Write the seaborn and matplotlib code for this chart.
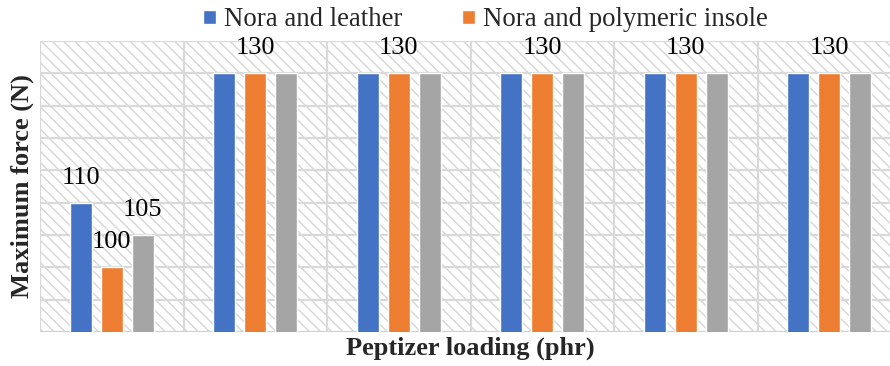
import matplotlib
matplotlib.use("Agg")
import matplotlib.pyplot as plt
from matplotlib.patches import Rectangle
import seaborn as sns
import pandas as pd

# Data
groups = ["1", "2", "3", "4", "5", "6"]
series_names = ["Nora and leather", "Nora and polymeric insole", "Nora (third sample)"]
leather = [110, 130, 130, 130, 130, 130]
polymeric = [100, 130, 130, 130, 130, 130]
third = [105, 130, 130, 130, 130, 130]
colors = ["#4472C4", "#ED7D31", "#A5A5A5"]
legend_names = series_names[:2]

df = pd.DataFrame({
    "group": groups * 3,
    "series": [series_names[0]] * 6 + [series_names[1]] * 6 + [series_names[2]] * 6,
    "force": leather + polymeric + third,
})

sns.set_theme(style="white")
plt.rcParams["font.family"] = ["Liberation Serif", "DejaVu Serif"]
plt.rcParams["hatch.linewidth"] = 1.0

fig = plt.figure(figsize=(8.9, 3.66), dpi=100)
ax = fig.add_axes([40 / 890, 34 / 366, 861 / 890, 291 / 366])

# hatched plot-area background
bg = Rectangle((0, 0), 1, 1, transform=ax.transAxes, facecolor="white",
               edgecolor="#d6d6d6", linewidth=0, hatch="\\\\\\", zorder=0)
ax.add_patch(bg)

sns.barplot(data=df, x="group", y="force", hue="series", palette=colors,
            width=0.65, gap=0.3, ax=ax, legend=False, zorder=3,
            errorbar=None, saturation=1)

ax.set_ylim(90, 135)
ax.set_xlim(-0.5, 5.5)

# grid
for yv in range(90, 136, 5):
    ax.axhline(yv, color="#d9d9d9", lw=1.6, zorder=1)
for xv in [i - 0.5 for i in range(7)]:
    ax.axvline(xv, color="#d9d9d9", lw=1.6, zorder=1)
ax.axhline(90, color="#d0d0d0", lw=2.2, zorder=2)

for s in ax.spines.values():
    s.set_visible(False)
ax.set_xticks([])
ax.set_yticks([])

# value labels
off = 0.65 / 3
vals = [leather, polymeric, third]
for i in range(len(groups)):
    if i == 0:
        for k in range(3):
            ax.annotate(str(vals[k][i]), (i + (k - 1) * off, vals[k][i]),
                        xytext=(0, 18), textcoords="offset points",
                        ha="center", va="center", fontsize=19, color="#000000",
                        zorder=5)
    else:
        ax.annotate(str(vals[1][i]), (i, vals[1][i]),
                    xytext=(0, 18), textcoords="offset points",
                    ha="center", va="center", fontsize=19, color="#000000",
                    zorder=5)

ax.set_xlabel("Peptizer loading (phr)", fontsize=19, fontweight="bold", labelpad=3)
ax.set_ylabel("Maximum force (N)", fontsize=19, fontweight="bold", labelpad=4)

handles = [Rectangle((0, 0), 1, 1, facecolor=c) for c in colors[:2]]
fig.legend(handles, legend_names, loc="center left",
           bbox_to_anchor=(203 / 890, 1 - 20 / 366), ncol=2, frameon=False,
           fontsize=19.3, handlelength=0.5, handleheight=0.45, handletextpad=0.3,
           columnspacing=2.2, borderaxespad=0, borderpad=0)

fig.savefig("out.png", dpi=100)
